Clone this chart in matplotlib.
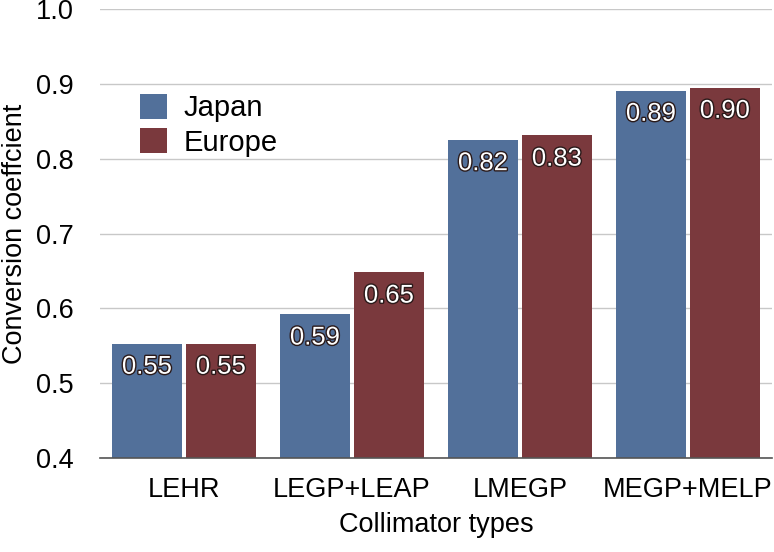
import matplotlib
matplotlib.use("Agg")
import matplotlib.pyplot as plt
import matplotlib.patheffects as pe
import numpy as np

categories = ["LEHR", "LEGP+LEAP", "LMEGP", "MEGP+MELP"]
japan = [0.553, 0.592, 0.825, 0.891]
europe = [0.553, 0.648, 0.831, 0.895]
japan_labels = ["0.55", "0.59", "0.82", "0.89"]
europe_labels = ["0.55", "0.65", "0.83", "0.90"]
yticks = [0.4, 0.5, 0.6, 0.7, 0.8, 0.9, 1.0]

plt.rcParams['font.family'] = ['Liberation Sans', 'DejaVu Sans']

fig = plt.figure(figsize=(7.74, 5.52), dpi=100)
ax = fig.add_axes([100/774, 1 - 458/552, 672/774, (458-9)/552])

blue = "#52709a"
red = "#7a393d"
x = np.arange(len(categories))
w = 0.415
off = 0.22
bj = ax.bar(x - off, japan, w, bottom=0, color=blue, label="Japan", zorder=3)
be = ax.bar(x + off, europe, w, bottom=0, color=red, label="Europe", zorder=3)

ax.set_ylim(0.4, 1.0)
ax.set_xlim(-0.5, len(categories) - 0.5)
ax.set_yticks(yticks)
ax.set_yticklabels([f"{t:.1f}" for t in yticks], fontsize=19.5)
ax.set_xticks(x)
ax.set_xticklabels(categories, fontsize=19.5)
ax.tick_params(axis='y', length=0, pad=19)
ax.tick_params(axis='x', length=0, pad=14)
ax.yaxis.grid(True, color="#c8c8c8", linewidth=1.0, zorder=0)
for s in ["top", "right", "left"]:
    ax.spines[s].set_visible(False)
ax.spines["bottom"].set_color("#555555")
ax.spines["bottom"].set_linewidth(1.2)
ax.spines["bottom"].set_zorder(4)

ax.set_ylabel("Conversion coeffcient", fontsize=19.5, va="center", ha="center")
ax.yaxis.set_label_coords(-85/672, 0.5)
ax.set_xlabel("Collimator types", fontsize=19.5, labelpad=6)

effects = [pe.withStroke(linewidth=2.0, foreground="#2a1a1a")]
for i in range(len(categories)):
    ax.text(x[i] - off, japan[i] - 0.031, japan_labels[i], ha="center", va="center",
            color="white", fontsize=18.5, path_effects=effects, zorder=5)
    ax.text(x[i] + off, europe[i] - 0.031, europe_labels[i], ha="center", va="center",
            color="white", fontsize=18.5, path_effects=effects, zorder=5)

leg = ax.legend(loc="upper left", bbox_to_anchor=(0.02, 0.87), frameon=False,
                fontsize=21, handlelength=0.95, handleheight=0.95, handletextpad=0.55,
                labelspacing=0.2)

fig.savefig("out.png", dpi=100)
